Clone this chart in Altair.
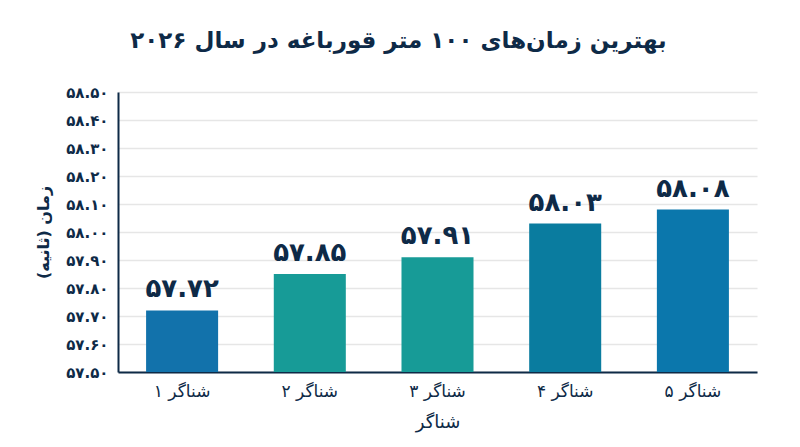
import altair as alt
import pandas as pd

# data
swimmers = ["شناگر ۱", "شناگر ۲", "شناگر ۳", "شناگر ۴", "شناگر ۵"]
times = [57.72, 57.85, 57.91, 58.03, 58.08]
bar_colors = ["#1272ab", "#179b97", "#179b97", "#0a7c9f", "#0b77ac"]
y_ticks = [57.5, 57.6, 57.7, 57.8, 57.9, 58.0, 58.1, 58.2, 58.3, 58.4, 58.5]

FA = "۰۱۲۳۴۵۶۷۸۹"
NAVY = "#0e2a47"
FONT = "DejaVu Sans"


def to_fa(s):
    return "".join(FA[int(c)] if c.isdigit() else c for c in s)


df = pd.DataFrame({
    "swimmer": swimmers,
    "time": times,
    "label": [to_fa(f"{t:.2f}") for t in times],
})

# persian digits on the axis
label_expr = "datum.label"
for d in range(10):
    label_expr = f"replace({label_expr}, regexp('{d}', 'g'), '{FA[d]}')"

x = alt.X(
    "swimmer:N",
    sort=swimmers,
    title="شناگر",
    scale=alt.Scale(paddingInner=0.436, paddingOuter=0.22),
    axis=alt.Axis(
        labelAngle=0, labelFontSize=17, labelColor=NAVY, labelPadding=11,
        titleFontSize=18, titleColor=NAVY, titlePadding=14, titleFontWeight="normal",
        ticks=False, domainColor=NAVY, domainWidth=2,
    ),
)

y = alt.Y(
    "time:Q",
    title="زمان (ثانیه)",
    scale=alt.Scale(domain=[57.5, 58.5], zero=False, nice=False),
    axis=alt.Axis(
        values=y_ticks, format=".2f", labelExpr=label_expr, labelOverlap=False,
        labelFontSize=15, labelFontWeight="bold", labelColor=NAVY, labelPadding=10,
        titleFontSize=16, titleColor=NAVY, titlePadding=14,
        ticks=False, domainColor=NAVY, domainWidth=2,
        gridColor="#e6e6e6", gridWidth=1.5,
    ),
)

bars = alt.Chart(df).mark_bar().encode(
    x=x,
    y=y,
    y2=alt.datum(57.5),
    color=alt.Color("swimmer:N", scale=alt.Scale(domain=swimmers, range=bar_colors), legend=None),
)

labels = alt.Chart(df).mark_text(
    baseline="bottom", dy=-8, fontSize=26, fontWeight="bold", color=NAVY, font=FONT
).encode(x=x, y=y, text="label:N")

chart = (
    (bars + labels)
    .properties(
        width=639,
        height=280,
        autosize=alt.AutoSizeParams(type="none"),
        padding={"left": 110, "top": 84, "right": 27, "bottom": 67},
        title=alt.TitleParams(
            "بهترین زمان‌های ۱۰۰ متر قورباغه در سال ۲۰۲۶",
            fontSize=23, fontWeight="bold", color=NAVY, font=FONT,
            anchor="middle", dx=-39, offset=32,
        ),
    )
    .configure(font=FONT)
    .configure_view(stroke=None)
)

chart.save("out.html", embed_options={"renderer": "svg", "actions": False})
